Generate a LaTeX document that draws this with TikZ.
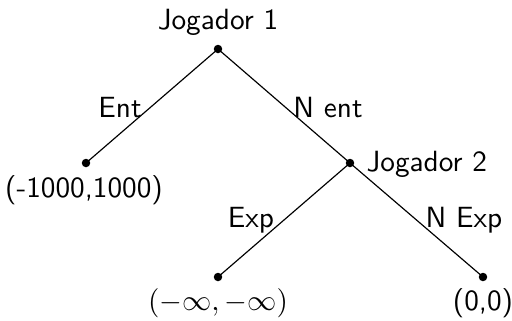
\documentclass[tikz,border=0pt]{standalone}
\begin{document}
\begin{tikzpicture}[x=0.3418pt,y=-0.3418pt,
  dot/.style={circle,fill=black,inner sep=0pt,minimum size=2.9pt},
  edge/.style={line width=0.4pt},
  lbl/.style={inner sep=0pt,anchor=base,font=\sffamily}]
\useasboundingbox (0,0) rectangle (512,320);
% decision and terminal points
\node[dot] (r) at (218,49) {};
\node[dot] (a) at (86,163) {};
\node[dot] (b) at (350,163) {};
\node[dot] (c) at (218,277) {};
\node[dot] (d) at (483,277) {};
% branches
\draw[edge] (r.center) -- (a.center);
\draw[edge] (r.center) -- (b.center);
\draw[edge] (b.center) -- (c.center);
\draw[edge] (b.center) -- (d.center);
% player labels
\node[lbl] (p1) at (218,29) {Jogador 1};
\node[lbl,anchor=base west] (p2) at (366,171) {Jogador 2};
% move labels
\node[lbl] (e1) at (120,117) {Ent};
\node[lbl] (e2) at (328,117) {N ent};
\node[lbl] (e3) at (251,227) {Exp};
\node[lbl] (e4) at (464,227) {N Exp};
% payoffs
\node[lbl] (u1) at (84,197) {(-1000,1000)};
\node[lbl] (u2) at (218,310) {$(-\infty,-\infty)$};
\node[lbl] (u3) at (483,310) {(0,0)};
\end{tikzpicture}
\end{document}
